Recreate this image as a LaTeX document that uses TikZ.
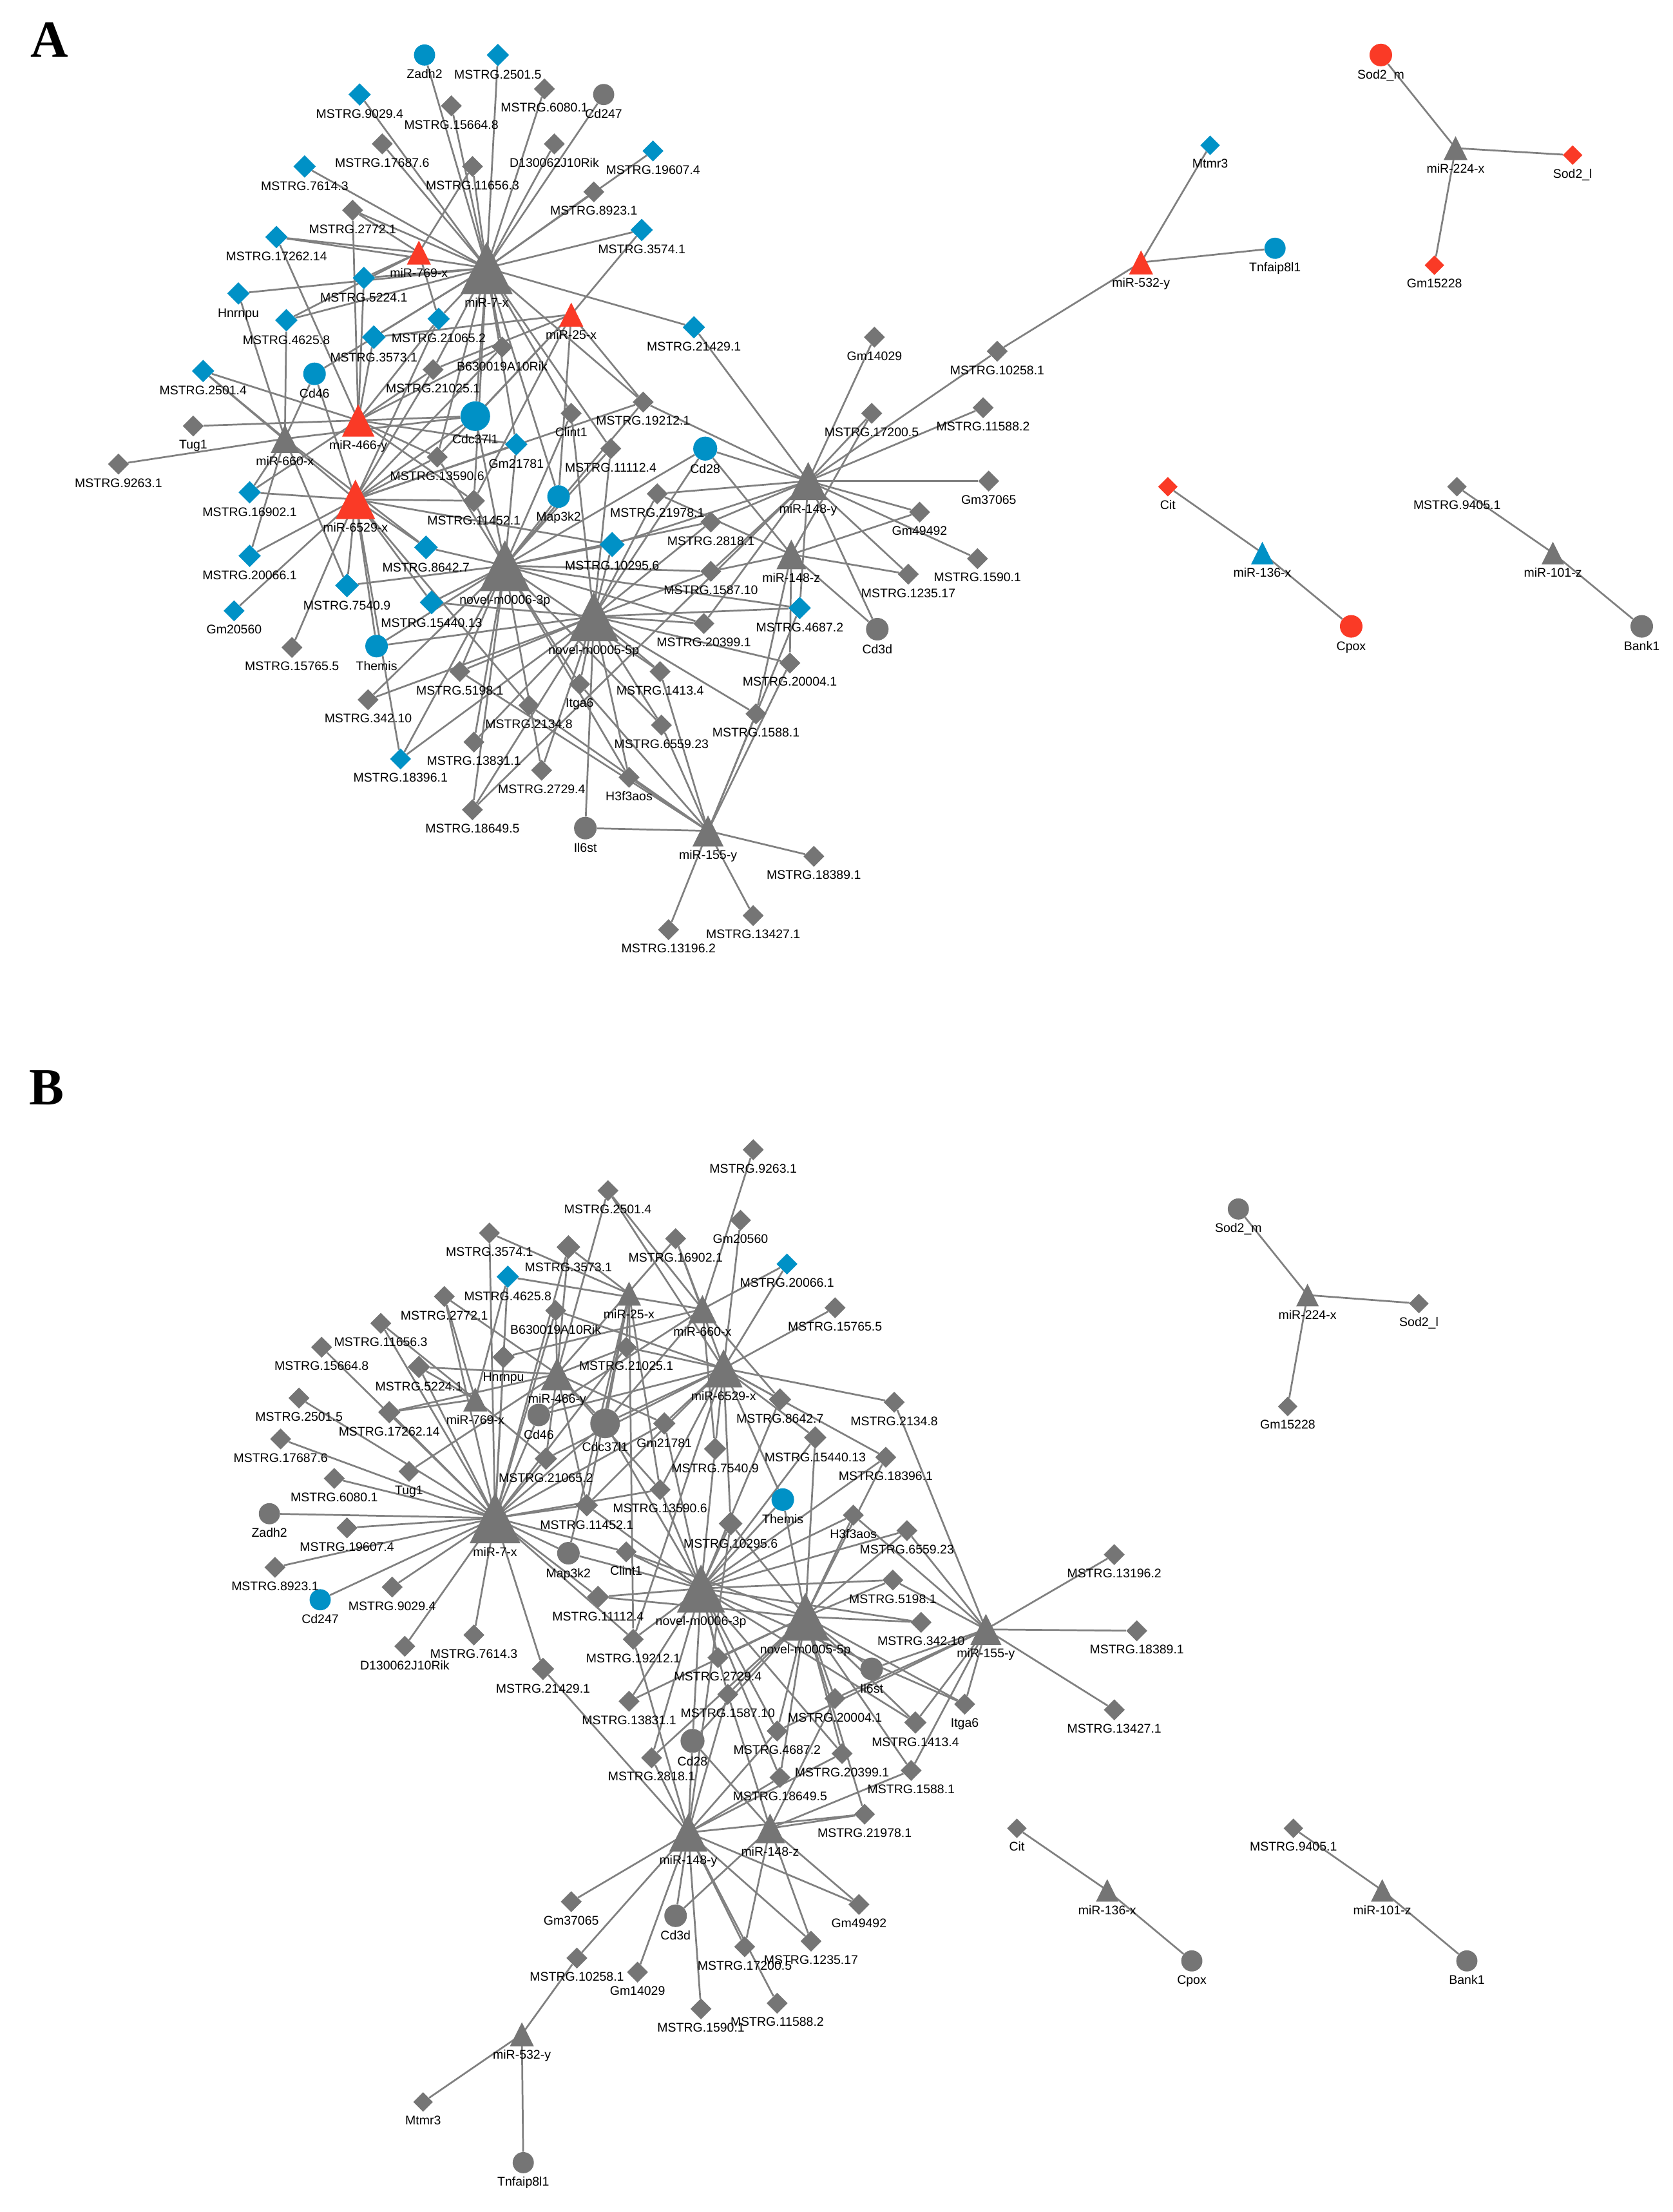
\documentclass[tikz,border=0pt]{standalone}
\usepackage{fontspec}
\setmainfont{Liberation Sans}
\newfontfamily\panelfont{Liberation Serif}
\usetikzlibrary{shapes.geometric}
\definecolor{cgray}{RGB}{117,117,117}
\definecolor{cblue}{RGB}{0,145,198}
\definecolor{cred}{RGB}{250,58,38}
\definecolor{cedge}{RGB}{128,128,128}
\newcommand\lblfont{\fontsize{8.9pt}{10pt}\selectfont}
\pgfdeclarelayer{paper}
\pgfdeclarelayer{edges}
\pgfdeclarelayer{front}
\pgfsetlayers{paper,edges,main,front}
\tikzset{
  dia/.style={diamond, inner sep=0pt, draw=none},
  cir/.style={circle, inner sep=0pt, draw=none},
  lbl/.style={anchor=north, inner sep=0pt, font=\lblfont, text=black},
  edge/.style={line width=1.25pt, draw=cedge},
  panel/.style={inner sep=0pt, font=\panelfont\bfseries\fontsize{37pt}{40pt}\selectfont}
}
\newcommand\Tri[6]{%
  \coordinate (#1) at (#2,#3);
  \fill[#5] (#2,#3) ++(0,-#4/2) -- ++(#4/2,#4) -- ++(-#4,0) -- cycle;
  \begin{pgfonlayer}{front}\node[lbl] at (#2,#3+#4/2+2.5) {#6};\end{pgfonlayer}}
\newcommand\Nd[7]{%
  \node[#4, fill=#6, minimum width=#5pt, minimum height=#5pt] (#1) at (#2,#3) {};
  \begin{pgfonlayer}{front}\node[lbl] at (#2,#3+#5/2+2.5) {#7};\end{pgfonlayer}}
\begin{document}
\begin{tikzpicture}[x=1pt,y=-1pt]
\begin{pgfonlayer}{paper}
\fill[white] (0,0) rectangle (1186,1568);
\end{pgfonlayer}
\useasboundingbox (0,0) rectangle (1186,1568);
\node[panel] (labA) at (35,28) {A};
\node[panel] (labB) at (33,771) {B};
% ================= PANEL A =================
\Tri{A-h7}{345}{190}{37}{cgray}{miR-7-x}
\Tri{A-h769}{297}{179}{17}{cred}{miR-769-x}
\Tri{A-h25}{405}{223}{17}{cred}{miR-25-x}
\Tri{A-h466}{254}{298}{23}{cred}{miR-466-y}
\Tri{A-h660}{202}{311}{20}{cgray}{miR-660-x}
\Tri{A-h6529}{252}{354}{28}{cred}{miR-6529-x}
\Tri{A-n6}{358}{401}{36}{cgray}{novel-m0006-3p}
\Tri{A-n5}{421}{437}{35}{cgray}{novel-m0005-5p}
\Tri{A-h148y}{573}{341}{27}{cgray}{miR-148-y}
\Tri{A-h148z}{561}{393}{21}{cgray}{miR-148-z}
\Tri{A-h155}{502}{589}{22}{cgray}{miR-155-y}
\Tri{A-h532}{809}{186}{17}{cred}{miR-532-y}
\Tri{A-h224}{1032}{105}{17}{cgray}{miR-224-x}
\Tri{A-h136}{895}{392}{16}{cblue}{miR-136-x}
\Tri{A-h101}{1101}{392}{16}{cgray}{miR-101-z}
\Nd{A-zadh2}{301}{39}{cir}{15}{cblue}{Zadh2}
\Nd{A-m2501-5}{353}{39}{dia}{16}{cblue}{MSTRG.2501.5}
\Nd{A-m6080-1}{386}{63}{dia}{15}{cgray}{MSTRG.6080.1}
\Nd{A-cd247}{428}{67}{cir}{15}{cgray}{Cd247}
\Nd{A-m9029-4}{255}{67}{dia}{16}{cblue}{MSTRG.9029.4}
\Nd{A-m15664-8}{320}{75}{dia}{15}{cgray}{MSTRG.15664.8}
\Nd{A-m17687-6}{271}{102}{dia}{15}{cgray}{MSTRG.17687.6}
\Nd{A-m7614-3}{216}{118}{dia}{16}{cblue}{MSTRG.7614.3}
\Nd{A-m11656-3}{335}{118}{dia}{15}{cgray}{MSTRG.11656.3}
\Nd{A-d130}{393}{102}{dia}{15}{cgray}{D130062J10Rik}
\Nd{A-m19607-4}{463}{107}{dia}{15}{cblue}{MSTRG.19607.4}
\Nd{A-m8923-1}{421}{136}{dia}{15}{cgray}{MSTRG.8923.1}
\Nd{A-m3574-1}{455}{163}{dia}{16}{cblue}{MSTRG.3574.1}
\Nd{A-m2772-1}{250}{149}{dia}{15}{cgray}{MSTRG.2772.1}
\Nd{A-m17262-14}{196}{168}{dia}{16}{cblue}{MSTRG.17262.14}
\Nd{A-m5224-1}{258}{197}{dia}{16}{cblue}{MSTRG.5224.1}
\Nd{A-hnrnpu}{169}{208}{dia}{16}{cblue}{Hnrnpu}
\Nd{A-m4625-8}{203}{227}{dia}{16}{cblue}{MSTRG.4625.8}
\Nd{A-m21065-2}{311}{226}{dia}{16}{cblue}{MSTRG.21065.2}
\Nd{A-m3573-1}{265}{239}{dia}{17}{cblue}{MSTRG.3573.1}
\Nd{A-m21429-1}{492}{232}{dia}{16}{cblue}{MSTRG.21429.1}
\Nd{A-gm14029}{620}{239}{dia}{15}{cgray}{Gm14029}
\Nd{A-m10258-1}{707}{249}{dia}{15}{cgray}{MSTRG.10258.1}
\Nd{A-mtmr3}{858}{103}{dia}{14}{cblue}{Mtmr3}
\Nd{A-tnf}{904}{176}{cir}{15}{cblue}{Tnfaip8l1}
\Nd{A-sod2m}{979}{39}{cir}{16}{cred}{Sod2\_m}
\Nd{A-sod2l}{1115}{110}{dia}{14}{cred}{Sod2\_l}
\Nd{A-gm15228}{1017}{188}{dia}{14}{cred}{Gm15228}
\Nd{A-cit}{828}{345}{dia}{14}{cred}{Cit}
\Nd{A-cpox}{958}{444}{cir}{16}{cred}{Cpox}
\Nd{A-m9405-1}{1033}{345}{dia}{14}{cgray}{MSTRG.9405.1}
\Nd{A-bank1}{1164}{444}{cir}{16}{cgray}{Bank1}
\Nd{A-m2501-4}{144}{263}{dia}{16}{cblue}{MSTRG.2501.4}
\Nd{A-cd46}{223}{265}{cir}{16}{cblue}{Cd46}
\Nd{A-b630}{356}{246}{dia}{15}{cgray}{B630019A10Rik}
\Nd{A-m21025-1}{307}{262}{dia}{15}{cgray}{MSTRG.21025.1}
\Nd{A-cdc}{337}{295}{cir}{21}{cblue}{Cdc37l1}
\Nd{A-tug1}{137}{302}{dia}{15}{cgray}{Tug1}
\Nd{A-m9263-1}{84}{329}{dia}{15}{cgray}{MSTRG.9263.1}
\Nd{A-gm21781}{366}{315}{dia}{16}{cblue}{Gm21781}
\Nd{A-m13590-6}{310}{324}{dia}{15}{cgray}{MSTRG.13590.6}
\Nd{A-m16902-1}{177}{349}{dia}{16}{cblue}{MSTRG.16902.1}
\Nd{A-m11452-1}{336}{355}{dia}{16}{cgray}{MSTRG.11452.1}
\Nd{A-m20066-1}{177}{394}{dia}{16}{cblue}{MSTRG.20066.1}
\Nd{A-m8642-7}{302}{388}{dia}{17}{cblue}{MSTRG.8642.7}
\Nd{A-m7540-9}{246}{415}{dia}{17}{cblue}{MSTRG.7540.9}
\Nd{A-m15440-13}{306}{427}{dia}{17}{cblue}{MSTRG.15440.13}
\Nd{A-gm20560}{166}{433}{dia}{15}{cblue}{Gm20560}
\Nd{A-m15765-5}{207}{459}{dia}{15}{cgray}{MSTRG.15765.5}
\Nd{A-themis}{267}{458}{cir}{16}{cblue}{Themis}
\Nd{A-m19212-1}{456}{285}{dia}{15}{cgray}{MSTRG.19212.1}
\Nd{A-clint1}{405}{293}{dia}{15}{cgray}{Clint1}
\Nd{A-m11112-4}{433}{318}{dia}{15}{cgray}{MSTRG.11112.4}
\Nd{A-cd28}{500}{318}{cir}{17}{cblue}{Cd28}
\Nd{A-map3k2}{396}{352}{cir}{16}{cblue}{Map3k2}
\Nd{A-m21978-1}{466}{350}{dia}{15}{cgray}{MSTRG.21978.1}
\Nd{A-m17200-5}{618}{293}{dia}{15}{cgray}{MSTRG.17200.5}
\Nd{A-m11588-2}{697}{289}{dia}{15}{cgray}{MSTRG.11588.2}
\Nd{A-gm37065}{701}{341}{dia}{15}{cgray}{Gm37065}
\Nd{A-m2818-1}{504}{370}{dia}{15}{cgray}{MSTRG.2818.1}
\Nd{A-gm49492}{652}{363}{dia}{15}{cgray}{Gm49492}
\Nd{A-m10295-6}{434}{386}{dia}{18}{cblue}{MSTRG.10295.6}
\Nd{A-m1590-1}{693}{396}{dia}{15}{cgray}{MSTRG.1590.1}
\Nd{A-m1587-10}{504}{405}{dia}{15}{cgray}{MSTRG.1587.10}
\Nd{A-m1235-17}{644}{407}{dia}{15}{cgray}{MSTRG.1235.17}
\Nd{A-m4687-2}{567}{431}{dia}{16}{cblue}{MSTRG.4687.2}
\Nd{A-m20399-1}{499}{442}{dia}{15}{cgray}{MSTRG.20399.1}
\Nd{A-cd3d}{622}{446}{cir}{16}{cgray}{Cd3d}
\Nd{A-m5198-1}{326}{476}{dia}{15}{cgray}{MSTRG.5198.1}
\Nd{A-m342-10}{261}{496}{dia}{15}{cgray}{MSTRG.342.10}
\Nd{A-m2134-8}{375}{500}{dia}{15}{cgray}{MSTRG.2134.8}
\Nd{A-itga6}{411}{485}{dia}{15}{cgray}{Itga6}
\Nd{A-m1413-4}{468}{476}{dia}{15}{cgray}{MSTRG.1413.4}
\Nd{A-m20004-1}{560}{470}{dia}{15}{cgray}{MSTRG.20004.1}
\Nd{A-m6559-23}{469}{514}{dia}{15}{cgray}{MSTRG.6559.23}
\Nd{A-m1588-1}{536}{506}{dia}{15}{cgray}{MSTRG.1588.1}
\Nd{A-m13831-1}{336}{526}{dia}{15}{cgray}{MSTRG.13831.1}
\Nd{A-m18396-1}{284}{538}{dia}{15}{cblue}{MSTRG.18396.1}
\Nd{A-m2729-4}{384}{546}{dia}{15}{cgray}{MSTRG.2729.4}
\Nd{A-h3f3aos}{446}{551}{dia}{15}{cgray}{H3f3aos}
\Nd{A-m18649-5}{335}{574}{dia}{15}{cgray}{MSTRG.18649.5}
\Nd{A-il6st}{415}{587}{cir}{16}{cgray}{Il6st}
\Nd{A-m18389-1}{577}{607}{dia}{15}{cgray}{MSTRG.18389.1}
\Nd{A-m13427-1}{534}{649}{dia}{15}{cgray}{MSTRG.13427.1}
\Nd{A-m13196-2}{474}{659}{dia}{15}{cgray}{MSTRG.13196.2}
% ================= PANEL B =================
\Tri{B-h7}{351}{1076}{36}{cgray}{miR-7-x}
\Tri{B-h769}{337}{992}{17}{cgray}{miR-769-x}
\Tri{B-h25}{446}{917}{17}{cgray}{miR-25-x}
\Tri{B-h466}{395}{974}{23}{cgray}{miR-466-y}
\Tri{B-h660}{498}{928}{20}{cgray}{miR-660-x}
\Tri{B-h6529}{513}{970}{27}{cgray}{miR-6529-x}
\Tri{B-n6}{497}{1126}{34}{cgray}{novel-m0006-3p}
\Tri{B-n5}{571}{1146}{34}{cgray}{novel-m0005-5p}
\Tri{B-h148y}{488}{1299}{27}{cgray}{miR-148-y}
\Tri{B-h148z}{546}{1296}{21}{cgray}{miR-148-z}
\Tri{B-h155}{699}{1155}{22}{cgray}{miR-155-y}
\Tri{B-h532}{370}{1442}{17}{cgray}{miR-532-y}
\Tri{B-h224}{927}{918}{16}{cgray}{miR-224-x}
\Tri{B-h136}{785}{1340}{16}{cgray}{miR-136-x}
\Tri{B-h101}{980}{1340}{16}{cgray}{miR-101-z}
\Nd{B-zadh2}{191}{1073}{cir}{15}{cgray}{Zadh2}
\Nd{B-m2501-5}{212}{991}{dia}{15}{cgray}{MSTRG.2501.5}
\Nd{B-m6080-1}{237}{1048}{dia}{15}{cgray}{MSTRG.6080.1}
\Nd{B-cd247}{227}{1134}{cir}{15}{cblue}{Cd247}
\Nd{B-m9029-4}{278}{1125}{dia}{15}{cgray}{MSTRG.9029.4}
\Nd{B-m15664-8}{228}{955}{dia}{15}{cgray}{MSTRG.15664.8}
\Nd{B-m17687-6}{199}{1020}{dia}{15}{cgray}{MSTRG.17687.6}
\Nd{B-m7614-3}{336}{1159}{dia}{15}{cgray}{MSTRG.7614.3}
\Nd{B-m11656-3}{270}{938}{dia}{15}{cgray}{MSTRG.11656.3}
\Nd{B-d130}{287}{1167}{dia}{15}{cgray}{D130062J10Rik}
\Nd{B-m19607-4}{246}{1083}{dia}{15}{cgray}{MSTRG.19607.4}
\Nd{B-m8923-1}{195}{1111}{dia}{15}{cgray}{MSTRG.8923.1}
\Nd{B-m3574-1}{347}{874}{dia}{15}{cgray}{MSTRG.3574.1}
\Nd{B-m2772-1}{315}{919}{dia}{15}{cgray}{MSTRG.2772.1}
\Nd{B-m17262-14}{276}{1001}{dia}{16}{cgray}{MSTRG.17262.14}
\Nd{B-m5224-1}{297}{969}{dia}{16}{cgray}{MSTRG.5224.1}
\Nd{B-hnrnpu}{357}{962}{dia}{16}{cgray}{Hnrnpu}
\Nd{B-m4625-8}{360}{905}{dia}{16}{cblue}{MSTRG.4625.8}
\Nd{B-m21065-2}{387}{1034}{dia}{16}{cgray}{MSTRG.21065.2}
\Nd{B-m3573-1}{403}{884}{dia}{17}{cgray}{MSTRG.3573.1}
\Nd{B-m21429-1}{385}{1183}{dia}{16}{cgray}{MSTRG.21429.1}
\Nd{B-gm14029}{452}{1398}{dia}{15}{cgray}{Gm14029}
\Nd{B-m10258-1}{409}{1388}{dia}{15}{cgray}{MSTRG.10258.1}
\Nd{B-mtmr3}{300}{1490}{dia}{14}{cgray}{Mtmr3}
\Nd{B-tnf}{371}{1533}{cir}{15}{cgray}{Tnfaip8l1}
\Nd{B-sod2m}{878}{857}{cir}{15}{cgray}{Sod2\_m}
\Nd{B-sod2l}{1006}{924}{dia}{14}{cgray}{Sod2\_l}
\Nd{B-gm15228}{913}{997}{dia}{14}{cgray}{Gm15228}
\Nd{B-cit}{721}{1296}{dia}{14}{cgray}{Cit}
\Nd{B-cpox}{845}{1390}{cir}{15}{cgray}{Cpox}
\Nd{B-m9405-1}{917}{1296}{dia}{14}{cgray}{MSTRG.9405.1}
\Nd{B-bank1}{1040}{1390}{cir}{15}{cgray}{Bank1}
\Nd{B-m2501-4}{431}{844}{dia}{15}{cgray}{MSTRG.2501.4}
\Nd{B-cd46}{382}{1003}{cir}{16}{cgray}{Cd46}
\Nd{B-b630}{394}{929}{dia}{15}{cgray}{B630019A10Rik}
\Nd{B-m21025-1}{444}{955}{dia}{15}{cgray}{MSTRG.21025.1}
\Nd{B-cdc}{429}{1009}{cir}{21}{cgray}{Cdc37l1}
\Nd{B-tug1}{290}{1043}{dia}{15}{cgray}{Tug1}
\Nd{B-m9263-1}{534}{815}{dia}{15}{cgray}{MSTRG.9263.1}
\Nd{B-gm21781}{471}{1009}{dia}{16}{cgray}{Gm21781}
\Nd{B-m13590-6}{468}{1056}{dia}{15}{cgray}{MSTRG.13590.6}
\Nd{B-m16902-1}{479}{878}{dia}{15}{cgray}{MSTRG.16902.1}
\Nd{B-m11452-1}{416}{1067}{dia}{16}{cgray}{MSTRG.11452.1}
\Nd{B-m20066-1}{558}{896}{dia}{15}{cblue}{MSTRG.20066.1}
\Nd{B-m8642-7}{553}{992}{dia}{16}{cgray}{MSTRG.8642.7}
\Nd{B-m7540-9}{507}{1027}{dia}{16}{cgray}{MSTRG.7540.9}
\Nd{B-m15440-13}{578}{1019}{dia}{16}{cgray}{MSTRG.15440.13}
\Nd{B-gm20560}{525}{865}{dia}{15}{cgray}{Gm20560}
\Nd{B-m15765-5}{592}{927}{dia}{15}{cgray}{MSTRG.15765.5}
\Nd{B-themis}{555}{1063}{cir}{16}{cblue}{Themis}
\Nd{B-m19212-1}{449}{1162}{dia}{15}{cgray}{MSTRG.19212.1}
\Nd{B-clint1}{444}{1100}{dia}{15}{cgray}{Clint1}
\Nd{B-m11112-4}{424}{1132}{dia}{16}{cgray}{MSTRG.11112.4}
\Nd{B-cd28}{491}{1234}{cir}{17}{cgray}{Cd28}
\Nd{B-map3k2}{403}{1101}{cir}{16}{cgray}{Map3k2}
\Nd{B-m21978-1}{613}{1286}{dia}{15}{cgray}{MSTRG.21978.1}
\Nd{B-m17200-5}{528}{1380}{dia}{15}{cgray}{MSTRG.17200.5}
\Nd{B-m11588-2}{551}{1420}{dia}{15}{cgray}{MSTRG.11588.2}
\Nd{B-gm37065}{405}{1348}{dia}{15}{cgray}{Gm37065}
\Nd{B-m2818-1}{462}{1246}{dia}{15}{cgray}{MSTRG.2818.1}
\Nd{B-gm49492}{609}{1350}{dia}{15}{cgray}{Gm49492}
\Nd{B-m10295-6}{518}{1080}{dia}{17}{cgray}{MSTRG.10295.6}
\Nd{B-m1590-1}{497}{1424}{dia}{15}{cgray}{MSTRG.1590.1}
\Nd{B-m1587-10}{516}{1201}{dia}{15}{cgray}{MSTRG.1587.10}
\Nd{B-m1235-17}{575}{1376}{dia}{15}{cgray}{MSTRG.1235.17}
\Nd{B-m4687-2}{551}{1227}{dia}{15}{cgray}{MSTRG.4687.2}
\Nd{B-m20399-1}{597}{1243}{dia}{15}{cgray}{MSTRG.20399.1}
\Nd{B-cd3d}{479}{1358}{cir}{16}{cgray}{Cd3d}
\Nd{B-m5198-1}{633}{1120}{dia}{15}{cgray}{MSTRG.5198.1}
\Nd{B-m342-10}{653}{1150}{dia}{15}{cgray}{MSTRG.342.10}
\Nd{B-m2134-8}{634}{994}{dia}{15}{cgray}{MSTRG.2134.8}
\Nd{B-itga6}{684}{1208}{dia}{15}{cgray}{Itga6}
\Nd{B-m1413-4}{649}{1221}{dia}{16}{cgray}{MSTRG.1413.4}
\Nd{B-m20004-1}{592}{1204}{dia}{15}{cgray}{MSTRG.20004.1}
\Nd{B-m6559-23}{643}{1085}{dia}{15}{cgray}{MSTRG.6559.23}
\Nd{B-m1588-1}{646}{1255}{dia}{15}{cgray}{MSTRG.1588.1}
\Nd{B-m13831-1}{446}{1206}{dia}{15}{cgray}{MSTRG.13831.1}
\Nd{B-m18396-1}{628}{1033}{dia}{15}{cgray}{MSTRG.18396.1}
\Nd{B-m2729-4}{509}{1175}{dia}{15}{cgray}{MSTRG.2729.4}
\Nd{B-h3f3aos}{605}{1074}{dia}{15}{cgray}{H3f3aos}
\Nd{B-m18649-5}{553}{1260}{dia}{15}{cgray}{MSTRG.18649.5}
\Nd{B-il6st}{618}{1183}{cir}{16}{cgray}{Il6st}
\Nd{B-m18389-1}{806}{1156}{dia}{15}{cgray}{MSTRG.18389.1}
\Nd{B-m13427-1}{790}{1212}{dia}{15}{cgray}{MSTRG.13427.1}
\Nd{B-m13196-2}{790}{1102}{dia}{15}{cgray}{MSTRG.13196.2}
% ================= EDGES =================
\begin{pgfonlayer}{edges}
\foreach \p in {A,B}{
  \foreach \t in {zadh2,m2501-5,m6080-1,cd247,m9029-4,m15664-8,m17687-6,m7614-3,m11656-3,d130,m19607-4,m8923-1,m3574-1,m2772-1,m17262-14,m5224-1,hnrnpu,m4625-8,m21065-2,m3573-1,m21429-1,cd46,b630,m21025-1,cdc,gm21781,m13590-6,m11452-1,m19212-1,clint1,m11112-4,map3k2}{\draw[edge] (\p-h7) -- (\p-\t);}
  \foreach \t in {m11656-3,m17262-14,m5224-1,m4625-8,m2772-1,m21065-2}{\draw[edge] (\p-h769) -- (\p-\t);}
  \foreach \t in {m3574-1,m3573-1,m21025-1,cdc,map3k2,m19212-1,m13590-6,m11452-1}{\draw[edge] (\p-h25) -- (\p-\t);}
  \foreach \t in {m2772-1,m17262-14,m5224-1,m21065-2,m3573-1,m2501-4,b630,m21025-1,cdc,tug1,gm21781,m13590-6,m16902-1,m11452-1}{\draw[edge] (\p-h466) -- (\p-\t);}
  \foreach \t in {hnrnpu,m4625-8,m2501-4,cd46,cdc,m9263-1,m16902-1,m20066-1,m8642-7,m7540-9}{\draw[edge] (\p-h660) -- (\p-\t);}
  \foreach \t in {m21065-2,m2501-4,cd46,b630,m21025-1,cdc,gm21781,m13590-6,m16902-1,m11452-1,m20066-1,m8642-7,m7540-9,m15440-13,gm20560,m15765-5,themis,m19212-1,m10295-6,m2134-8,m18396-1}{\draw[edge] (\p-h6529) -- (\p-\t);}
  \foreach \t in {cdc,gm21781,m13590-6,m11452-1,m8642-7,m7540-9,m15440-13,themis,m19212-1,clint1,m11112-4,cd28,map3k2,m2818-1,m10295-6,m1587-10,m4687-2,m20399-1,m5198-1,m342-10,itga6,m1413-4,m6559-23,m13831-1,m18396-1,m2729-4,h3f3aos,m18649-5}{\draw[edge] (\p-n6) -- (\p-\t);}
  \foreach \t in {m15440-13,themis,clint1,m11112-4,cd28,m21978-1,m2818-1,m10295-6,m1587-10,m4687-2,m20399-1,m5198-1,m342-10,itga6,m1413-4,m20004-1,m6559-23,m1588-1,m13831-1,m18396-1,m2729-4,h3f3aos,m18649-5,il6st}{\draw[edge] (\p-n5) -- (\p-\t);}
  \foreach \t in {m21429-1,gm14029,m10258-1,m19212-1,cd28,m21978-1,m17200-5,m11588-2,gm37065,m2818-1,gm49492,m10295-6,m1590-1,m1587-10,m1235-17,m4687-2,m20399-1,cd3d,m18649-5}{\draw[edge] (\p-h148y) -- (\p-\t);}
  \foreach \t in {cd28,m21978-1,m17200-5,gm49492,m1587-10,m1235-17,cd3d,m20004-1,m1588-1}{\draw[edge] (\p-h148z) -- (\p-\t);}
  \foreach \t in {m4687-2,m5198-1,m2134-8,itga6,m1413-4,m20004-1,m6559-23,m1588-1,h3f3aos,il6st,m18389-1,m13427-1,m13196-2}{\draw[edge] (\p-h155) -- (\p-\t);}
  \foreach \t in {mtmr3,tnf,m10258-1}{\draw[edge] (\p-h532) -- (\p-\t);}
  \foreach \t in {sod2m,sod2l,gm15228}{\draw[edge] (\p-h224) -- (\p-\t);}
  \foreach \t in {cit,cpox}{\draw[edge] (\p-h136) -- (\p-\t);}
  \foreach \t in {m9405-1,bank1}{\draw[edge] (\p-h101) -- (\p-\t);}
}
\end{pgfonlayer}
\end{tikzpicture}
\end{document}
